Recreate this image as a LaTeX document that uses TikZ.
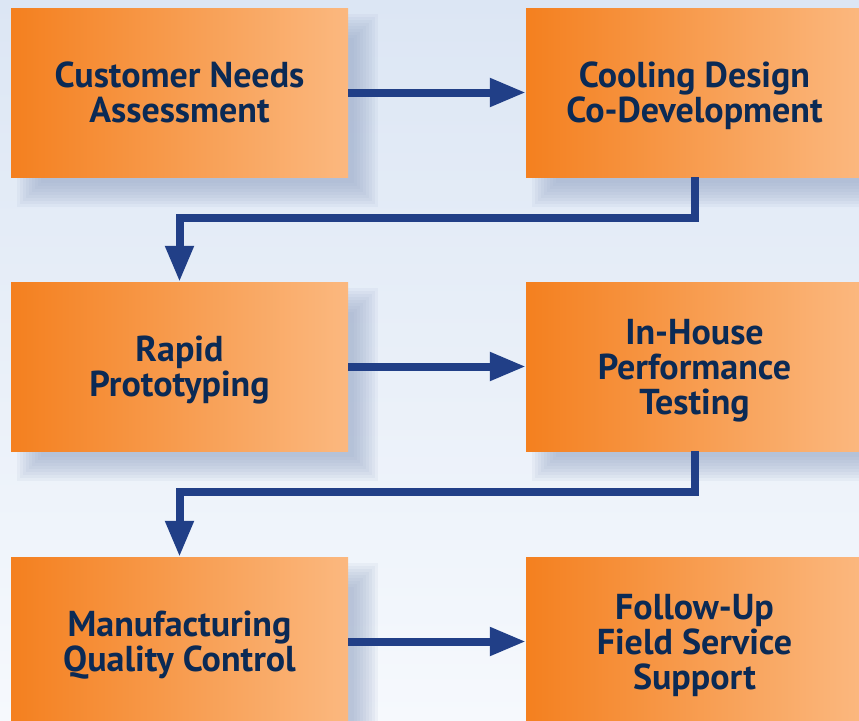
\documentclass[tikz,border=0pt]{standalone}
\usepackage{fontspec}
\setsansfont{PT Sans}
\usetikzlibrary{arrows.meta}

\definecolor{stepnavy}{HTML}{0B2A55}
\definecolor{flowblue}{HTML}{213F87}
\definecolor{boxdark}{HTML}{F4801F}
\definecolor{boxlight}{HTML}{FBB87F}
\definecolor{bgtop}{HTML}{DCE6F4}
\definecolor{bgbottom}{HTML}{F6F9FD}
\definecolor{shadowblue}{HTML}{99A9C8}

\pgfdeclarelayer{backdrop}
\pgfdeclarelayer{shade}
\pgfsetlayers{backdrop,shade,main}

\tikzset{
  stepbox/.style={minimum width=337pt, minimum height=169pt, inner sep=0pt,
    left color=boxdark, right color=boxlight, align=center, text=stepnavy,
    text depth=0pt, font=\sffamily\bfseries\fontsize{36}{35}\selectfont},
  flow/.style={draw=flowblue, line width=8pt,
    -{Triangle[width=27pt,length=36pt]}},
  softshade/.style={fill=shadowblue, opacity=0.1},
}

\begin{document}
\begin{tikzpicture}[x=1pt, y=-1pt]

  % Background
  \begin{pgfonlayer}{backdrop}
    \fill[top color=bgtop, bottom color=bgbottom] (0,0) rectangle (859,720);
  \end{pgfonlayer}
  \useasboundingbox (0,0) rectangle (859,720);

  % Row 1
  \node[stepbox] (needs) at (179.5,92.5) {Customer Needs\\Assessment};
  \node[stepbox] (design) at (694.5,92.5) {Cooling Design\\Co-Development};

  % Row 2
  \node[stepbox] (proto) at (179.5,366.5) {Rapid\\Prototyping};
  \node[stepbox] (testing) at (694.5,366.5) {In-House\\Performance\\Testing};

  % Row 3
  \node[stepbox] (quality) at (179.5,641.5) {Manufacturing\\Quality Control};
  \node[stepbox] (support) at (694.5,641.5) {Follow-Up\\Field Service\\Support};

  % Soft shadows
  \begin{pgfonlayer}{shade}
    \foreach \n in {needs,design,proto,testing,quality,support}
      \foreach \r in {-12,-9,...,12}
        \fill[softshade] ([shift={(18+\r,18+\r)}]\n.north west)
          rectangle ([shift={(18-\r,18-\r)}]\n.south east);
  \end{pgfonlayer}

  % Connectors
  \draw[flow] (needs.east) -- (design.west);
  \draw[flow] (design.south) -- ++(0,41) -| (proto.north);
  \draw[flow] (proto.east) -- (testing.west);
  \draw[flow] (testing.south) -- ++(0,41) -| (quality.north);
  \draw[flow] (quality.east) -- (support.west);

\end{tikzpicture}
\end{document}
